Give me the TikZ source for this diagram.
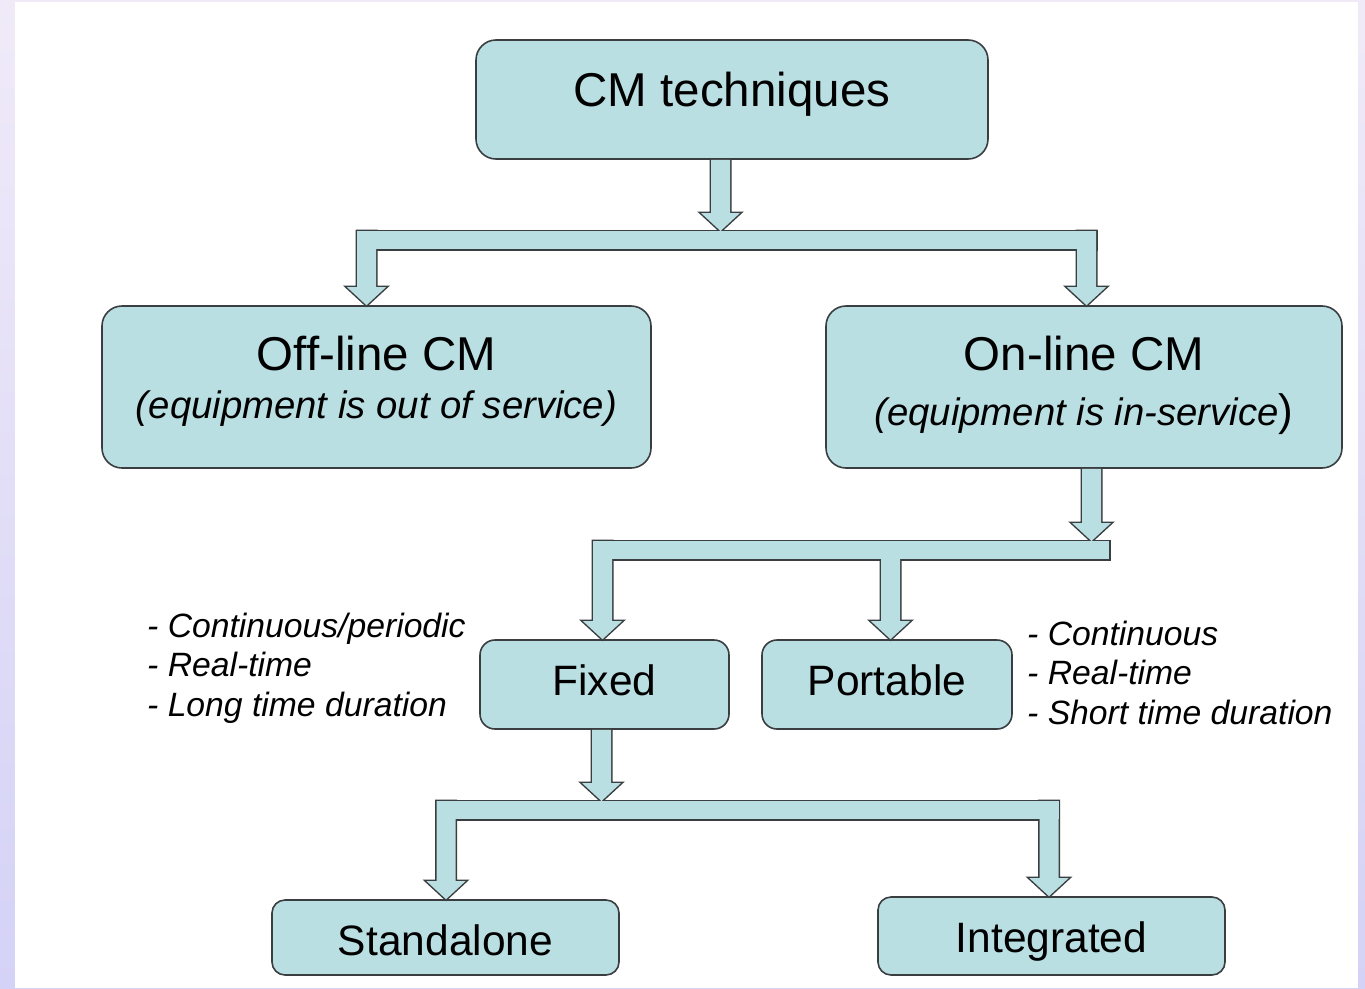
\documentclass[tikz,border=0pt]{standalone}
\usepackage{fontspec}
\setmainfont{Liberation Sans}
\usetikzlibrary{calc}
\definecolor{cmfill}{RGB}{186,223,227}
\definecolor{cmedge}{RGB}{58,62,64}
\definecolor{slidetop}{RGB}{240,234,248}
\definecolor{slidebottom}{RGB}{212,210,246}
\newcommand\colorBox{cmfill}
\newcommand\colorEdge{cmedge}
\newcommand\shaftHalf{9.5}
\newcommand\headHalf{19.5}
\newcommand\headLength{18}
\newcommand\barWidth{18}
\newcommand\subText{\fontsize{38.3}{45}\selectfont\itshape}
\newcommand\listText{\fontsize{33.7}{39.5}\selectfont\itshape}
% hollow block arrow going down from #1 to the tip #2
\newcommand\blockArrow[2]{
	($(#1)+(-\shaftHalf,0)$) -- ($(#2)+(-\shaftHalf,-\headLength)$) --
	($(#2)+(-\headHalf,-\headLength)$) -- (#2) --
	($(#2)+(\headHalf,-\headLength)$) -- ($(#2)+(\shaftHalf,-\headLength)$) --
	($(#1)+(\shaftHalf,0)$) -- cycle
}
\newcommand\drawTree[1]{
	\foreach \a/\b in {splitA/splitAend,splitB/splitBend,splitC/splitCend}{
		\path[#1] (\a) rectangle (\b);
	}
	\foreach \s/\t in {s1/t1,s2/t2,s3/t3,s4/t4,s5/t5,s6/t6,s7/t7,s8/t8,s9/t9}{
		\path[#1] \blockArrow{\s}{\t};
	}
}
\tikzset{
	cmbox/.style={draw=\colorEdge, fill=\colorBox, line width=1.6pt, rounded corners=20pt,
		inner sep=0pt, align=center},
	cmlist/.style={inner sep=0pt, align=left, anchor=north west, font=\listText}
}

\begin{document}
\begin{tikzpicture}[x=1pt, y=-1pt]
	% slide background
	\shade[top color=slidetop, bottom color=slidebottom] (0,0) rectangle (1365,988);
	\fill[white] (15,2) rectangle (1358,988);
	\useasboundingbox (0,0) rectangle (1365,988);
	
	\node[cmbox, minimum width=512pt, minimum height=119pt, font=\fontsize{47.5}{50}\selectfont,
		text height=35pt, text depth=22pt] (tech) at (732,99.5) {CM techniques};
	\node[cmbox, minimum width=549pt, minimum height=162pt, font=\fontsize{47.5}{48}\selectfont,
		text height=76pt, text depth=14pt] (off) at (376.5,387)
		{Off-line CM\\{\subText (equipment is out of service)}};
	\node[cmbox, minimum width=516pt, minimum height=162pt, font=\fontsize{47.5}{55}\selectfont,
		text height=90pt, text depth=14pt] (on) at (1084,387)
		{On-line CM\\{\subText (equipment is in-service}{\fontsize{44}{55}\selectfont)}};
	\node[cmbox, minimum width=249pt, minimum height=89pt, rounded corners=15pt,
		font=\fontsize{42.5}{48}\selectfont, text height=40pt, text depth=18pt] (fixed) at (604.5,684.5) {Fixed};
	\node[cmbox, minimum width=250pt, minimum height=89pt, rounded corners=15pt,
		font=\fontsize{42.5}{48}\selectfont, text height=40pt, text depth=18pt] (port) at (887,684.5) {Portable};
	\node[cmbox, minimum width=347pt, minimum height=75pt, rounded corners=13pt,
		font=\fontsize{42.5}{48}\selectfont, text height=40pt, text depth=5pt] (stand) at (445.5,937.5) {Standalone};
	\node[cmbox, minimum width=347pt, minimum height=78pt, rounded corners=13pt,
		font=\fontsize{42.5}{48}\selectfont, text height=40pt, text depth=8pt] (integ) at (1051.5,936) {Integrated};
	
	\node[cmlist] (fixedlist) at (147,612.5) {- Continuous/periodic\\- Real-time\\- Long time duration};
	\node[cmlist] (portlist) at (1027,620.5) {- Continuous\\- Real-time\\- Short time duration};
	
	% levels of the three splitting bars
	\coordinate (levelA) at (0,231);
	\coordinate (levelB) at (0,541);
	\coordinate (levelC) at (0,801);
	
	\coordinate (s1) at ($(tech.south)+(-11.5,0)$);
	\coordinate (t1) at (s1 |- levelA);
	\coordinate (t2) at ($(off.north)+(-10,0)$);
	\coordinate (s2) at (t2 |- levelA);
	\coordinate (t3) at ($(on.north)+(2.5,0)$);
	\coordinate (s3) at (t3 |- levelA);
	\coordinate (s4) at ($(on.south)+(7.5,0)$);
	\coordinate (t4) at (s4 |- levelB);
	\coordinate (t5) at ($(fixed.north)+(-2,0)$);
	\coordinate (s5) at (t5 |- levelB);
	\coordinate (t6) at ($(port.north)+(3.5,0)$);
	\coordinate (s6) at ($(t6 |- levelB)+(0,9)$);
	\coordinate (s7) at ($(fixed.south)+(-3,0)$);
	\coordinate (t7) at (s7 |- levelC);
	\coordinate (t8) at ($(stand.north)+(0.5,0)$);
	\coordinate (s8) at (t8 |- levelC);
	\coordinate (t9) at ($(integ.north)+(-2.5,0)$);
	\coordinate (s9) at (t9 |- levelC);
	
	\coordinate (splitA) at ($(s2)+(-\shaftHalf,0)$);
	\coordinate (splitAend) at ($(s3)+(\shaftHalf,\barWidth)$);
	\coordinate (splitB) at ($(s5)+(-\shaftHalf,0)$);
	\coordinate (splitBend) at ($(t4)+(17.5,\barWidth)$);
	\coordinate (splitC) at ($(s8)+(-\shaftHalf,0)$);
	\coordinate (splitCend) at ($(s9)+(\shaftHalf,\barWidth)$);
	
	% outline first, then fill over it so the pieces merge
	\drawTree{draw=\colorEdge, line width=3pt}
	\drawTree{fill=\colorBox}
\end{tikzpicture}
\end{document}
